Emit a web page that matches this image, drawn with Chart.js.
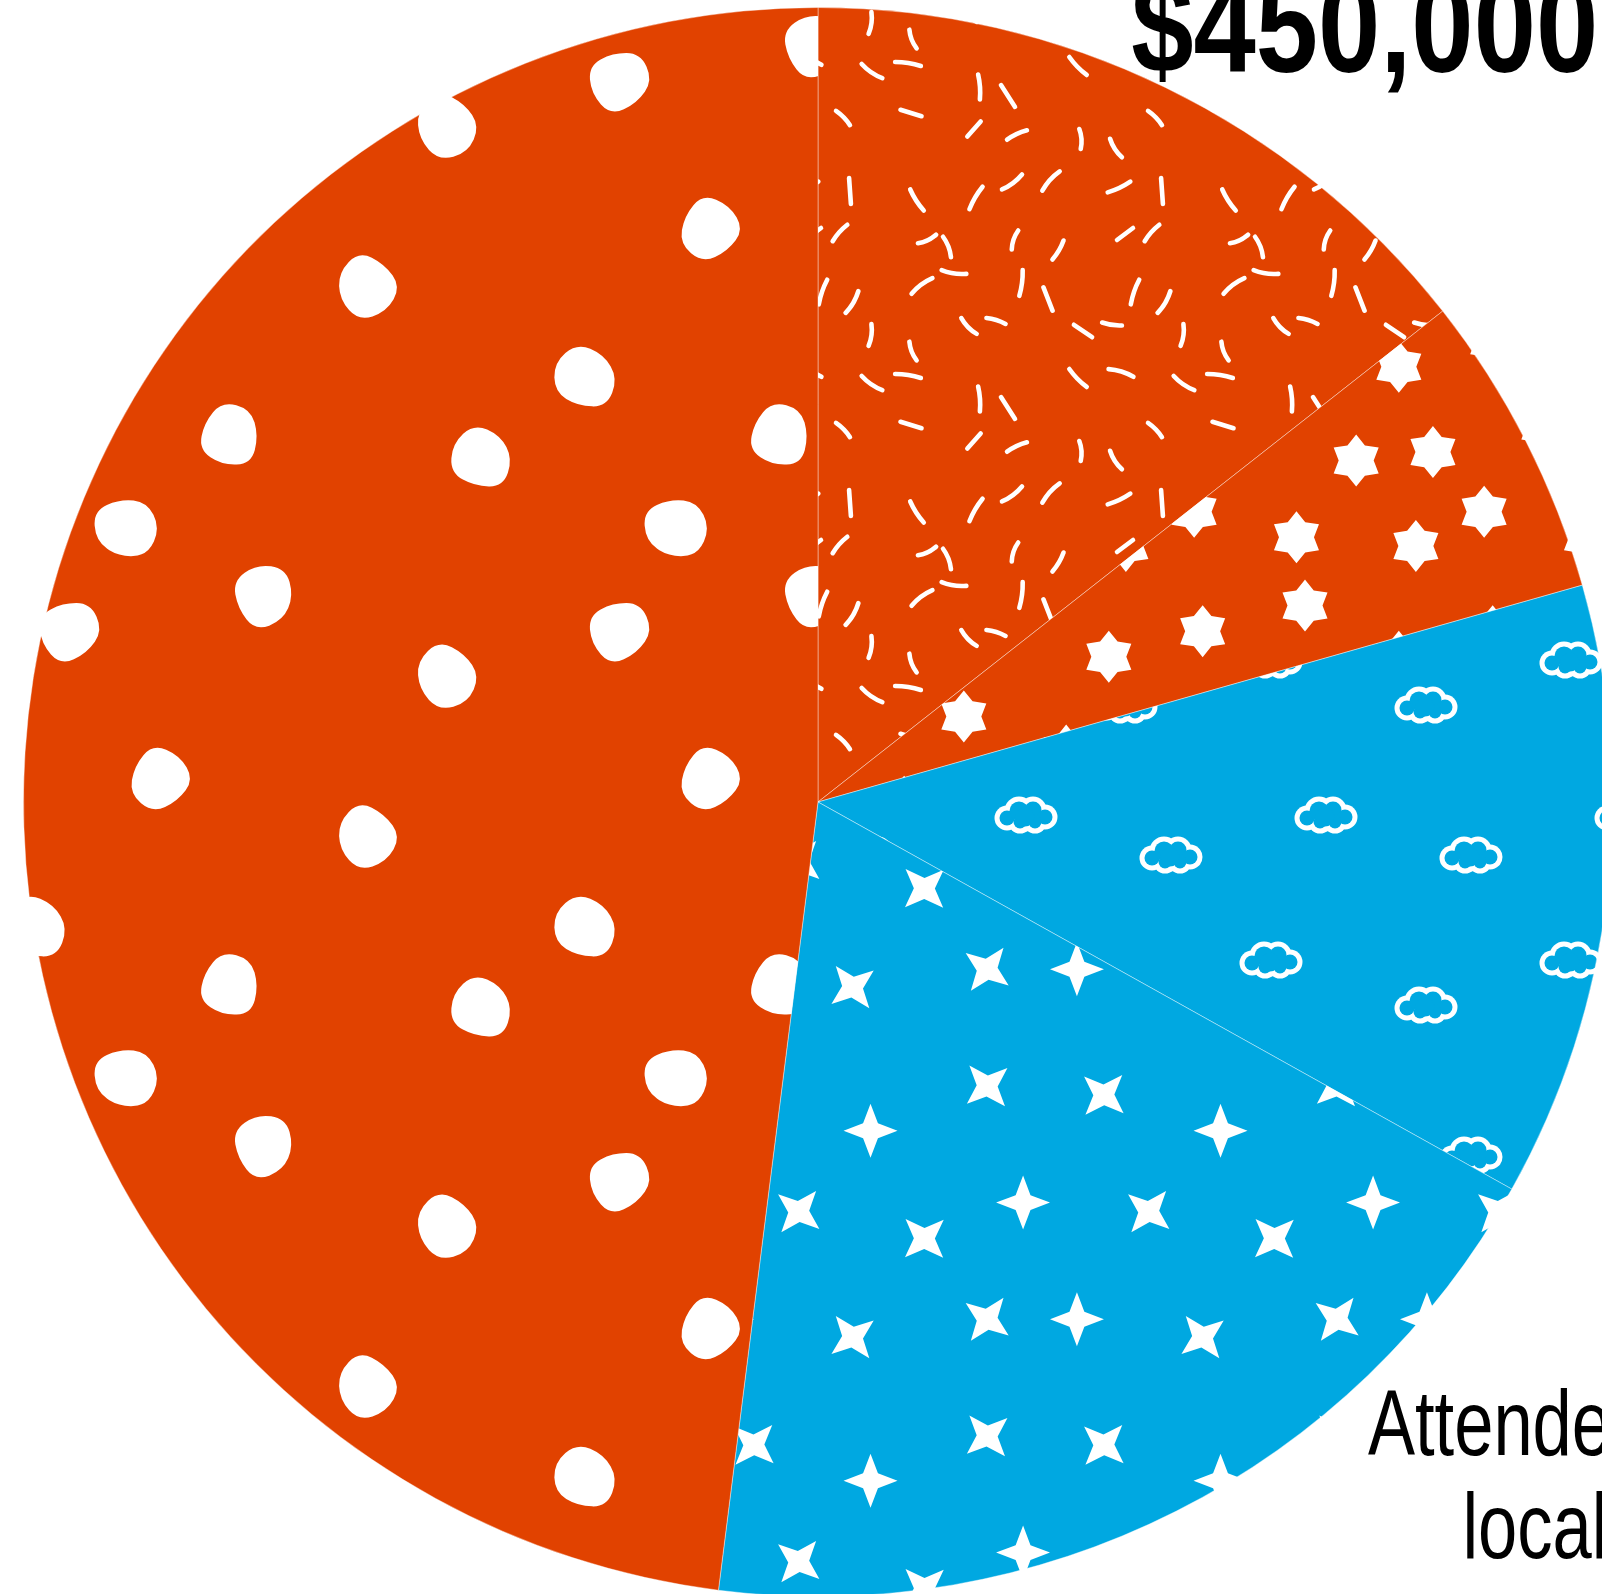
<!DOCTYPE html>
<html>
<head>
<meta charset="utf-8">
<title>Budget pie</title>
<script src="https://cdn.jsdelivr.net/npm/chart.js@4.4.0/dist/chart.umd.min.js"></script>
<style>
  html, body { margin: 0; padding: 0; background: #fff; overflow: hidden; }
  #wrap { position: absolute; left: 0; top: 0; width: 1636px; height: 1604px; }
</style>
</head>
<body>
<div id="wrap"><canvas id="pie"></canvas></div>
<script>
(function () {
    "use strict";

    // Data (share of the whole, in %)
    var categories = ['Sponsorship', 'Grants', 'Vendors', 'Attendees local food', 'Registration'];
    var shares = [14.4, 6.2, 12.5, 18.9, 48.0];
    var sliceColors = ['#E14200', '#E14200', '#00A8E1', '#00A8E1', '#E14200'];
    var sliceTextures = ['dashes', 'stars6', 'clouds', 'stars4', 'blobs'];
    var calloutText = ['$450,000', '', '', 'Attendees|local|food', ''];

    var WHITE = '#ffffff';

    // Tile helper: draws shapes 9 times so the tile wraps without seams
    function makeTile(size, bg, drawShapes) {
        var c = document.createElement('canvas');
        c.width = size;
        c.height = size;
        var g = c.getContext('2d');
        g.fillStyle = bg;
        g.fillRect(0, 0, size, size);
        for (var ox = -1; ox <= 1; ox++) {
            for (var oy = -1; oy <= 1; oy++) {
                g.save();
                g.translate(ox * size, oy * size);
                drawShapes(g);
                g.restore();
            }
        }
        return g.createPattern(c, 'repeat');
    }

    var jitA = [7, -15, 3, 17, -8, -2, 12, -18, 1, 14, -6];
    var jitB = [-12, 5, 16, -3, -17, 9, 0, 13, -7, 18, -1, 6, -14];
    var turns = [0.8, 2.3, 1.2, 0.3, 2.7, 1.9, 0.6, 1.5, 2.1, 0.15, 1.0, 2.5, 1.7];

    function dashes(bg) {
        return makeTile(312, bg, function (g) {
            g.strokeStyle = WHITE;
            g.lineWidth = 4.6;
            g.lineCap = 'round';
            for (var i = 0; i < 6; i++) {
                for (var j = 0; j < 6; j++) {
                    var k = i * 6 + j;
                    var bend = [3, -2, 0, 2, -3][k % 5];
                    var half = [11, 12.5, 10, 13][k % 4];
                    g.save();
                    g.translate(26 + 52 * i + jitA[(k * 3) % 11], 26 + 52 * j + jitB[(k * 5) % 13]);
                    g.rotate(turns[(k * 7) % 13]);
                    g.beginPath();
                    g.moveTo(-half, 0);
                    g.quadraticCurveTo(0, bend, half, 0);
                    g.stroke();
                    g.restore();
                }
            }
        });
    }

    function starPath(g, points, outer, inner) {
        g.beginPath();
        for (var p = 0; p < points * 2; p++) {
            var r = p % 2 === 0 ? outer : inner;
            var a = -Math.PI / 2 + p * Math.PI / points;
            if (p === 0) g.moveTo(r * Math.cos(a), r * Math.sin(a));
            else g.lineTo(r * Math.cos(a), r * Math.sin(a));
        }
        g.closePath();
    }

    function stars6(bg) {
        var spots = [[50, 60], [170, 30], [280, 90], [110, 160], [230, 200], [40, 260], [160, 290], [300, 300], [320, 190]];
        var k = 290 / 340;
        return makeTile(290, bg, function (g) {
            g.fillStyle = WHITE;
            spots.forEach(function (s) {
                g.save();
                g.translate(s[0] * k, s[1] * k);
                starPath(g, 6, 26, 17.5);
                g.fill();
                g.restore();
            });
        });
    }

    function stars4(bg) {
        var spots = [[60, 50, 0.75], [190, 90, 0], [320, 40, 0.85], [110, 180, 0.7],
                     [250, 210, 0.8], [30, 300, 0], [170, 320, 0.9], [320, 300, 0.65], [360, 170, 0]];
        var k = 350 / 390;
        return makeTile(350, bg, function (g) {
            g.fillStyle = WHITE;
            spots.forEach(function (s) {
                g.save();
                g.translate(s[0] * k, s[1] * k);
                g.rotate(s[2]);
                starPath(g, 4, 27, 10.5);
                g.fill();
                g.restore();
            });
        });
    }

    var cloudParts = [[-18, 3, 10], [-6, -4, 12], [8, -5, 11], [20, 2, 10], [10, 7, 9], [-5, 7, 9], [0, 2, 12]];

    function clouds(bg) {
        var spots = [[70, 60], [225, 105], [125, 215], [270, 255]];
        return makeTile(300, bg, function (g) {
            spots.forEach(function (s) {
                [[WHITE, 2.5], [bg, -2.5]].forEach(function (pass) {
                    g.fillStyle = pass[0];
                    cloudParts.forEach(function (c) {
                        g.beginPath();
                        g.arc(s[0] + c[0], s[1] + c[1], c[2] + pass[1], 0, Math.PI * 2);
                        g.fill();
                    });
                });
            });
        });
    }

    var blobShapes = [
        [1.0, 0.86, 1.06, 0.9, 0.98, 0.82, 1.02],
        [0.92, 1.06, 0.84, 1.0, 0.95, 1.04, 0.88],
        [1.05, 0.9, 0.98, 1.07, 0.84, 0.96, 1.0]
    ];

    function blobs(bg) {
        var spots = [[60, 70], [230, 40], [390, 110], [140, 200], [320, 250], [30, 330], [200, 380], [420, 400], [110, 460]];
        var k = 550 / 480;
        return makeTile(550, bg, function (g) {
            g.fillStyle = WHITE;
            spots.forEach(function (s, i) {
                var shape = blobShapes[i % 3];
                var pts = shape.map(function (m, n) {
                    var a = n * Math.PI * 2 / shape.length + i * 0.9;
                    return [34 * m * Math.cos(a), 34 * m * Math.sin(a)];
                });
                var n = pts.length;
                g.save();
                g.translate(s[0] * k, s[1] * k);
                g.beginPath();
                g.moveTo((pts[n - 1][0] + pts[0][0]) / 2, (pts[n - 1][1] + pts[0][1]) / 2);
                for (var p = 0; p < n; p++) {
                    var q = pts[(p + 1) % n];
                    g.quadraticCurveTo(pts[p][0], pts[p][1], (pts[p][0] + q[0]) / 2, (pts[p][1] + q[1]) / 2);
                }
                g.fill();
                g.restore();
            });
        });
    }

    var makers = { dashes: dashes, stars6: stars6, stars4: stars4, clouds: clouds, blobs: blobs };
    var fills = sliceTextures.map(function (t, i) { return makers[t](sliceColors[i]); });

    // Draw one line of condensed text so its ink spans a given width
    function condensed(ctx, text, font, left, baseline, sx) {
        ctx.font = font;
        ctx.textAlign = 'left';
        ctx.textBaseline = 'alphabetic';
        var m = ctx.measureText(text);
        ctx.save();
        ctx.translate(left + m.actualBoundingBoxLeft * sx, baseline);
        ctx.scale(sx, 1);
        ctx.fillText(text, 0, 0);
        ctx.restore();
    }

    function inkScale(ctx, text, font, width) {
        ctx.font = font;
        var m = ctx.measureText(text);
        return width / (m.actualBoundingBoxLeft + m.actualBoundingBoxRight);
    }

    var calloutPlugin = {
        id: 'callouts',
        afterDraw: function (chart) {
            var ctx = chart.ctx;
            var arc = chart.getDatasetMeta(0).data[0];
            var cx = arc.x, cy = arc.y;
            ctx.save();
            ctx.fillStyle = '#000';

            var big = 'bold 133px "Liberation Sans Narrow", "Liberation Sans", Arial, sans-serif';
            var sBig = inkScale(ctx, calloutText[0], big, 462);
            condensed(ctx, calloutText[0], big, cx + 314, cy - 730, sBig);

            var reg = '92px "Liberation Sans Narrow", "Liberation Sans", Arial, sans-serif';
            var lines = calloutText[3].split('|');
            var sReg = inkScale(ctx, 'Attende', reg, 227) * 1.06;
            var lefts = [550, 649, 629];
            var bases = [653, 756, 859];
            lines.forEach(function (l, i) {
                condensed(ctx, l, reg, cx + lefts[i], cy + bases[i], sReg);
            });
            ctx.restore();
        }
    };

    new Chart(document.getElementById('pie'), {
        type: 'pie',
        data: {
            labels: categories,
            datasets: [{
                data: shares,
                backgroundColor: fills,
                borderColor: 'rgba(255,255,255,0.4)',
                borderWidth: 1
            }]
        },
        options: {
            responsive: true,
            maintainAspectRatio: false,
            animation: false,
            events: [],
            layout: { padding: { left: 23, right: 23, top: 7, bottom: 7 } },
            plugins: {
                legend: { display: false },
                tooltip: { enabled: false }
            }
        },
        plugins: [calloutPlugin]
    });
})();
</script>
</body>
</html>
